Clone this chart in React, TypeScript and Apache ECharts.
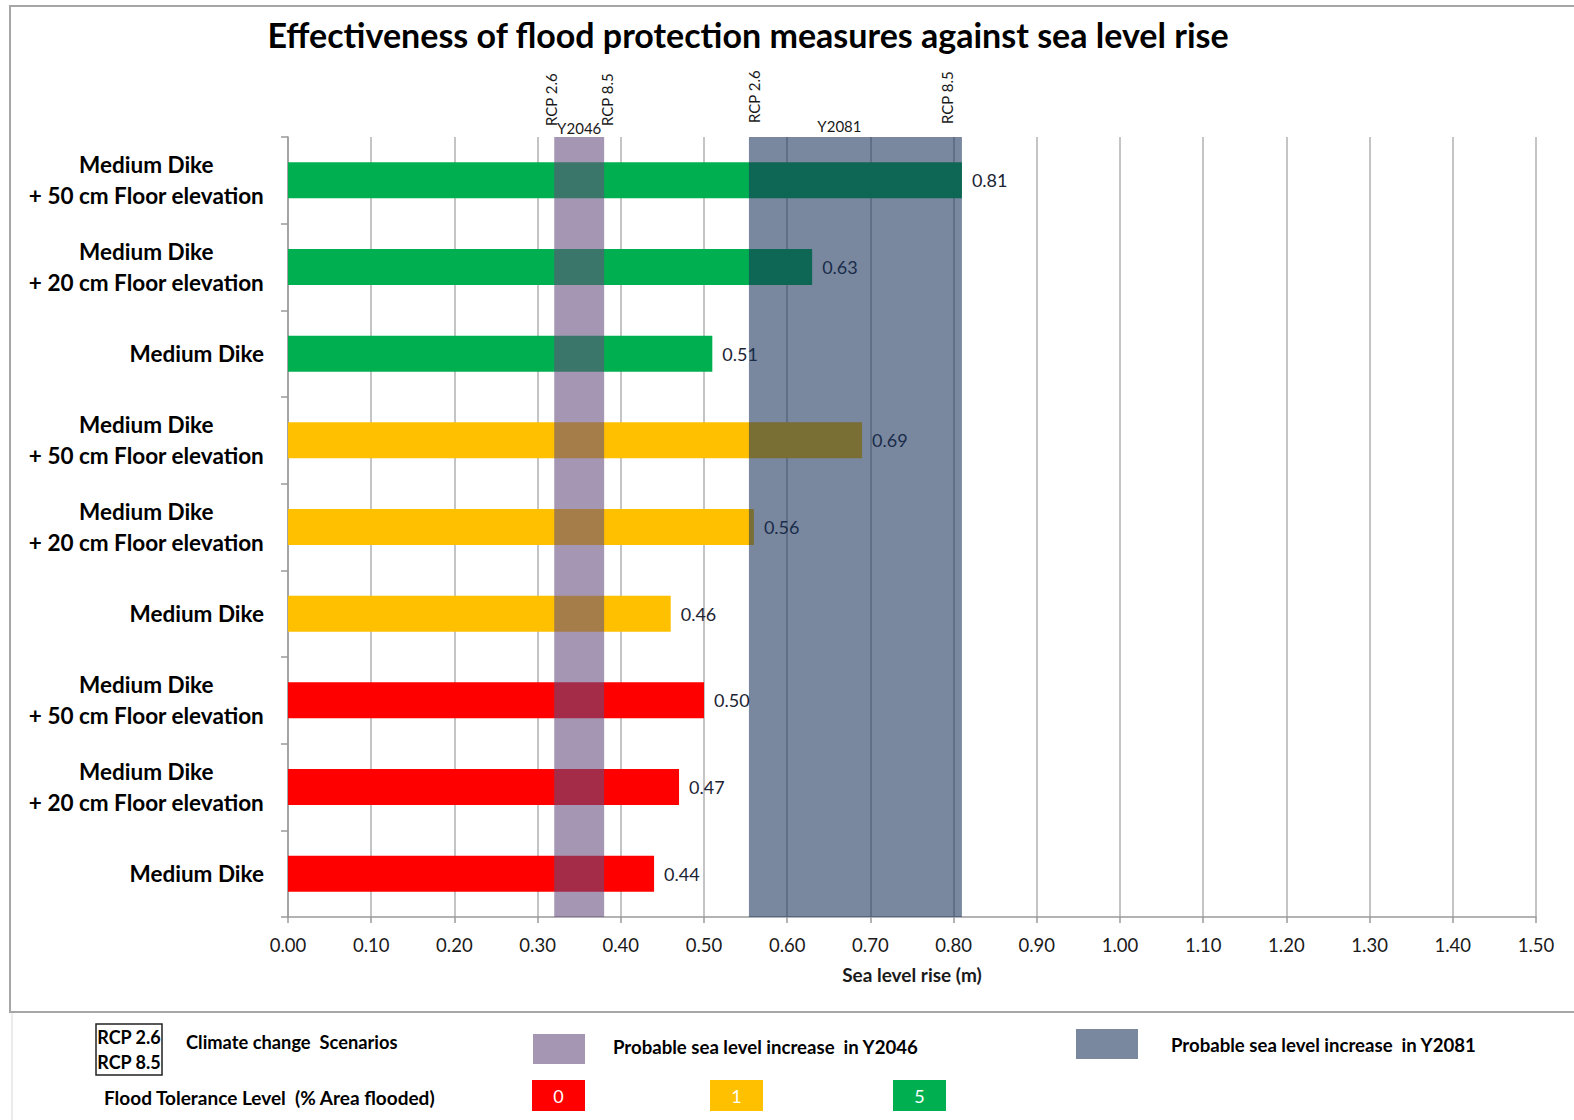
import React, { useEffect, useRef } from "react";
import * as echarts from "echarts";

// Protection measures, listed top to bottom
const categories = [
  "Medium Dike\n+ 50 cm Floor elevation",
  "Medium Dike\n+ 20 cm Floor elevation",
  "Medium Dike",
  "Medium Dike\n+ 50 cm Floor elevation",
  "Medium Dike\n+ 20 cm Floor elevation",
  "Medium Dike",
  "Medium Dike\n+ 50 cm Floor elevation",
  "Medium Dike\n+ 20 cm Floor elevation",
  "Medium Dike",
];

// Sea level rise (m) each measure can cope with
const protectedRise = [0.81, 0.63, 0.51, 0.69, 0.56, 0.46, 0.5, 0.47, 0.44];

// Flood tolerance level (% area flooded) of each row
const toleranceLevel = [5, 5, 5, 1, 1, 1, 0, 0, 0];

// Probable sea level increase ranges: RCP 2.6 .. RCP 8.5
const bandYears = ["Y2046", "Y2081"];
const bandRcp26 = [0.32, 0.554];
const bandRcp85 = [0.38, 0.81];

const xTicks = { min: 0, max: 1.5, step: 0.1 };

const toleranceColors: Record<number, string> = {
  0: "#ff0000",
  1: "#ffc000",
  5: "#00b050",
};
const bandColors = ["rgba(100,76,126,0.58)", "rgba(24,50,90,0.58)"];

// label placement tweaks around each band (px)
const bandLabelOffsets = [
  { left: -3, right: 3, year: 0, leftBottom: 126, rightBottom: 126, yearY: 128 },
  { left: 5, right: -15, year: -16, leftBottom: 123, rightBottom: 124, yearY: 126 },
];

const FONT = "Lato, 'Open Sans', sans-serif";
const TEXT = "#1a1a1a";

export default function App() {
  const ref = useRef<HTMLDivElement>(null);

  useEffect(() => {
    if (!ref.current) return;
    const chart = echarts.init(ref.current, null, { renderer: "svg" });

    const bandData = bandYears.map((y, i) => [bandRcp26[i], bandRcp85[i], i]);

    const legendText = (text: string, x: number, y: number, size: number) => ({
      type: "text",
      x,
      y,
      style: {
        text,
        align: "left",
        verticalAlign: "middle",
        fontFamily: FONT,
        fontSize: size,
        fontWeight: "bold",
        fill: "#000",
      },
    });

    const option: any = {
      animation: false,
      backgroundColor: "#ffffff",
      textStyle: { fontFamily: FONT },
      grid: { left: 288, right: 38, top: 137, bottom: 203, containLabel: false },
      xAxis: {
        type: "value",
        min: xTicks.min,
        max: xTicks.max,
        interval: xTicks.step,
        name: "Sea level rise (m)",
        nameLocation: "middle",
        nameGap: 48,
        nameTextStyle: { fontFamily: FONT, fontSize: 19, fontWeight: "bold", color: TEXT },
        axisLine: { show: true, lineStyle: { color: "#9a9a9a", width: 1.5 } },
        axisTick: { show: true, length: 6, lineStyle: { color: "#9a9a9a", width: 1.5 } },
        axisLabel: {
          margin: 18,
          fontFamily: FONT,
          fontSize: 18.5,
          color: TEXT,
          formatter: (v: number) => v.toFixed(2),
        },
        splitLine: { show: true, lineStyle: { color: "#b0b0b0", width: 1.5 } },
      },
      yAxis: {
        type: "category",
        inverse: true,
        data: categories,
        axisLine: { show: true, lineStyle: { color: "#9a9a9a", width: 1.5 } },
        axisTick: { show: true, length: 7, alignWithLabel: false, lineStyle: { color: "#9a9a9a", width: 1.5 } },
        splitLine: { show: false },
        axisLabel: {
          margin: 24,
          align: "right",
          fontFamily: FONT,
          fontSize: 22.5,
          fontWeight: "bold",
          lineHeight: 31,
          color: "#000",
          formatter: (v: string) =>
            v.indexOf("\n") >= 0
              ? v
                  .split("\n")
                  .map((l) => `{c|${l}}`)
                  .join("\n")
              : v,
          rich: {
            c: {
              align: "center",
              fontFamily: FONT,
              fontSize: 22.5,
              fontWeight: "bold",
              lineHeight: 31,
              color: "#000",
            },
          },
        },
      },
      series: [
        {
          type: "bar",
          z: 2,
          barWidth: 36,
          data: protectedRise.map((v, i) => ({
            value: v,
            itemStyle: { color: toleranceColors[toleranceLevel[i]] },
          })),
          label: {
            show: true,
            position: "right",
            distance: 10,
            fontFamily: FONT,
            fontSize: 18,
            color: "#1c2433",
            formatter: (p: any) => Number(p.value).toFixed(2),
          },
        },
        {
          type: "custom",
          z: 3,
          clip: false,
          encode: { x: [0, 1] },
          data: bandData,
          renderItem: (params: any, api: any) => {
            const idx = api.value(2);
            const x0 = api.coord([api.value(0), 0])[0];
            const x1 = api.coord([api.value(1), 0])[0];
            const cs = params.coordSys;
            const off = bandLabelOffsets[idx];
            const labelStyle = {
              fill: TEXT,
              fontFamily: FONT,
              fontSize: 15,
            };
            return {
              type: "group",
              children: [
                {
                  type: "rect",
                  shape: { x: x0, y: cs.y, width: x1 - x0, height: cs.height },
                  style: { fill: bandColors[idx] },
                },
                {
                  type: "text",
                  x: x0 + off.left,
                  y: off.leftBottom,
                  rotation: Math.PI / 2,
                  style: { ...labelStyle, text: "RCP 2.6", align: "left", verticalAlign: "middle" },
                },
                {
                  type: "text",
                  x: x1 + off.right,
                  y: off.rightBottom,
                  rotation: Math.PI / 2,
                  style: { ...labelStyle, text: "RCP 8.5", align: "left", verticalAlign: "middle" },
                },
                {
                  type: "text",
                  x: (x0 + x1) / 2 + off.year,
                  y: off.yearY,
                  style: { ...labelStyle, text: bandYears[idx], align: "center", verticalAlign: "middle" },
                },
              ],
            };
          },
        },
      ],
      graphic: [
        // chart frame
        {
          type: "rect",
          silent: true,
          shape: { x: 10, y: 6, width: 1580, height: 1006 },
          style: { fill: "none", stroke: "#a6a6a6", lineWidth: 2 },
        },
        {
          type: "line",
          silent: true,
          shape: { x1: 12, y1: 1013, x2: 12, y2: 1120 },
          style: { stroke: "#d8d8d8", lineWidth: 1 },
        },
        {
          type: "text",
          x: 748,
          y: 34,
          style: {
            text: "Effectiveness of flood protection measures against sea level rise",
            align: "center",
            verticalAlign: "middle",
            fontFamily: FONT,
            fontSize: 34,
            fontWeight: "bold",
            fill: "#000",
          },
        },
        // key
        {
          type: "rect",
          shape: { x: 96, y: 1024, width: 66, height: 51 },
          style: { fill: "none", stroke: "#222", lineWidth: 1.5 },
        },
        {
          type: "text",
          x: 129,
          y: 1037,
          style: { text: "RCP 2.6", align: "center", verticalAlign: "middle", fontFamily: FONT, fontSize: 18, fontWeight: "bold", fill: "#000" },
        },
        {
          type: "text",
          x: 129,
          y: 1062,
          style: { text: "RCP 8.5", align: "center", verticalAlign: "middle", fontFamily: FONT, fontSize: 18, fontWeight: "bold", fill: "#000" },
        },
        legendText("Climate change  Scenarios", 186, 1042, 18.3),
        {
          type: "rect",
          shape: { x: 533, y: 1034, width: 52, height: 30 },
          style: { fill: bandColors[0] },
        },
        legendText("Probable sea level increase  in Y2046", 613, 1047, 18.6),
        {
          type: "rect",
          shape: { x: 1076, y: 1029, width: 62, height: 30 },
          style: { fill: bandColors[1] },
        },
        legendText("Probable sea level increase  in Y2081", 1171, 1045, 18.6),
        legendText("Flood Tolerance Level  (% Area flooded)", 104, 1097, 19),
        ...[0, 1, 5].map((lvl, i) => {
          const xs = [532, 710, 893];
          return {
            type: "group",
            children: [
              {
                type: "rect",
                shape: { x: xs[i], y: 1080, width: 53, height: 31 },
                style: { fill: toleranceColors[lvl] },
              },
              {
                type: "text",
                x: xs[i] + 26.5,
                y: 1096,
                style: { text: String(lvl), align: "center", verticalAlign: "middle", fontFamily: FONT, fontSize: 18, fill: "#ffffff" },
              },
            ],
          };
        }),
      ],
    };

    chart.setOption(option);
    return () => chart.dispose();
  }, []);

  return (
    <div
      ref={ref}
      style={{ position: "absolute", left: 0, top: 0, width: 1574, height: 1120, background: "#fff" }}
    />
  );
}
